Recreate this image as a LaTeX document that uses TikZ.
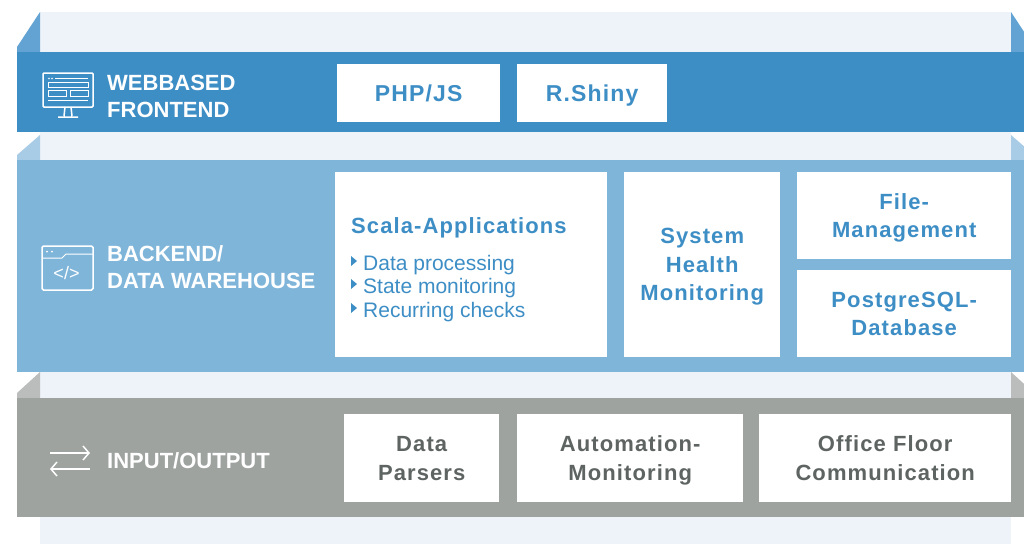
\documentclass[tikz,border=0pt]{standalone}
\usepackage{fontspec}
\setmainfont{Liberation Sans}
\newfontfamily\boxfont[LetterSpace=5]{Liberation Sans}
\usetikzlibrary{arrows.meta}

\definecolor{panel}{HTML}{EEF2F9}
\definecolor{topband}{HTML}{3E8EC6}
\definecolor{topside}{HTML}{62A3D3}
\definecolor{midband}{HTML}{80B5DA}
\definecolor{midside}{HTML}{A9CCE6}
\definecolor{lowband}{HTML}{9EA3A0}
\definecolor{lowside}{HTML}{BABDBB}
\definecolor{bluetext}{HTML}{3E8EC6}
\definecolor{greytext}{HTML}{5E6462}

\tikzset{
	layerlabel/.style={anchor=west, align=left, inner sep=0pt, text=white,
		font=\fontsize{22}{27}\selectfont\bfseries},
	boxnode/.style={fill=white, inner sep=0pt, anchor=north west, align=center,
		text depth=0pt, font=\boxfont\bfseries\fontsize{22}{28.5}\selectfont},
	bluebox/.style={boxnode, text=bluetext},
	greybox/.style={boxnode, text=greytext},
	icon/.style={draw=white, line width=1.5pt},
	thinicon/.style={draw=white, line width=1pt},
}

\begin{document}
\begin{tikzpicture}[x=1pt,y=-1pt]
	\useasboundingbox (0,0) rectangle (1024,544);
	\clip (0,0) rectangle (1024,544);

	% back panel behind the layers
	\fill[panel] (40,12) rectangle (1011,544);

	% three layers: back top / front top / front bottom / colours
	\foreach \backtop/\fronttop/\frontbot/\front/\side in
		{12/52/132/topband/topside, 135/160/372/midband/midside, 372/398/517/lowband/lowside}
	{
		\fill[\side] (40,\backtop) -- (17,\fronttop-5) -- (17,\fronttop) -- (40,\fronttop) -- cycle;
		\fill[\side] (1011,\backtop) -- (1034,\fronttop-5) -- (1034,\fronttop) -- (1011,\fronttop) -- cycle;
		\fill[\front] (17,\fronttop) rectangle (1034,\frontbot);
	}

	% layer labels
	\node[layerlabel] (frontendlabel) at (107,96.5) {WEBBASED\\FRONTEND};
	\node[layerlabel] (backendlabel) at (107,267.5) {BACKEND/\\DATA WAREHOUSE};
	\node[layerlabel] (iolabel) at (107,461) {INPUT/OUTPUT};

	% monitor icon
	\draw[icon, rounded corners=1pt] (43,73) rectangle (93,107);
	\draw[thinicon] (55,78.5) -- (88,78.5);
	\fill[white] (49,78.5) circle (0.8) (52,78.5) circle (0.8);
	\draw[thinicon] (48,82) rectangle (88,87);
	\draw[thinicon] (48,90) rectangle (66,96) (70,90) rectangle (88,96);
	\draw[thinicon] (48,100) -- (88,100);
	\draw[icon] (65,107) -- (64,116) (71,107) -- (72,116) (58,117) -- (78,117);

	% code window icon
	\draw[icon, rounded corners=1.5pt] (42,246) rectangle (93,290);
	\draw[thinicon] (42,258) -- (62,258) -- (66,254) -- (93,254);
	\fill[white] (47,251.5) circle (1) (52,251.5) circle (1);
	\node[text=white, inner sep=0pt, font=\fontsize{18}{18}\selectfont] (codetag) at (66.5,273) {</>};

	% in/out icon
	\draw[icon, -{Straight Barb[length=6pt,width=14pt]}] (50,453) -- (90,453);
	\draw[icon, -{Straight Barb[length=6pt,width=14pt]}] (90,469) -- (50,469);

	% frontend boxes
	\node[bluebox, minimum width=163, minimum height=58,
		font=\boxfont\bfseries\fontsize{23}{28}\selectfont] (phpjs) at (337,64) {PHP/JS};
	\node[bluebox, minimum width=150, minimum height=58,
		font=\boxfont\bfseries\fontsize{23}{28}\selectfont] (rshiny) at (517,64) {R.Shiny};

	% backend boxes
	\node[bluebox, minimum width=272, minimum height=185] (scala) at (335,172) {};
	\node[bluebox, anchor=base west] (scalatitle) at (351,233) {Scala-Applications};
	\foreach \y/\txt [count=\i] in {270/Data processing, 293/State monitoring, 317/Recurring checks}
	{
		\fill[bluetext] (351,\y-14) -- (357,\y-9) -- (351,\y-4) -- cycle;
		\node[anchor=base west, inner sep=0pt, text=bluetext,
			font=\fontsize{21}{23}\selectfont] (scalaitem\i) at (363,\y) {\txt};
	}
	\node[bluebox, minimum width=156, minimum height=185] (health) at (624,172) {System\\Health\\Monitoring};
	\node[bluebox, minimum width=214, minimum height=87] (files) at (797,172) {File-\\Management};
	\node[bluebox, minimum width=214, minimum height=87] (postgres) at (797,270) {PostgreSQL-\\Database};

	% input/output boxes
	\node[greybox, minimum width=155, minimum height=88] (parsers) at (344,414) {Data\\Parsers};
	\node[greybox, minimum width=226, minimum height=88] (automation) at (517,414) {Automation-\\Monitoring};
	\node[greybox, minimum width=252, minimum height=88] (office) at (759,414) {Office Floor\\Communication};
\end{tikzpicture}
\end{document}
